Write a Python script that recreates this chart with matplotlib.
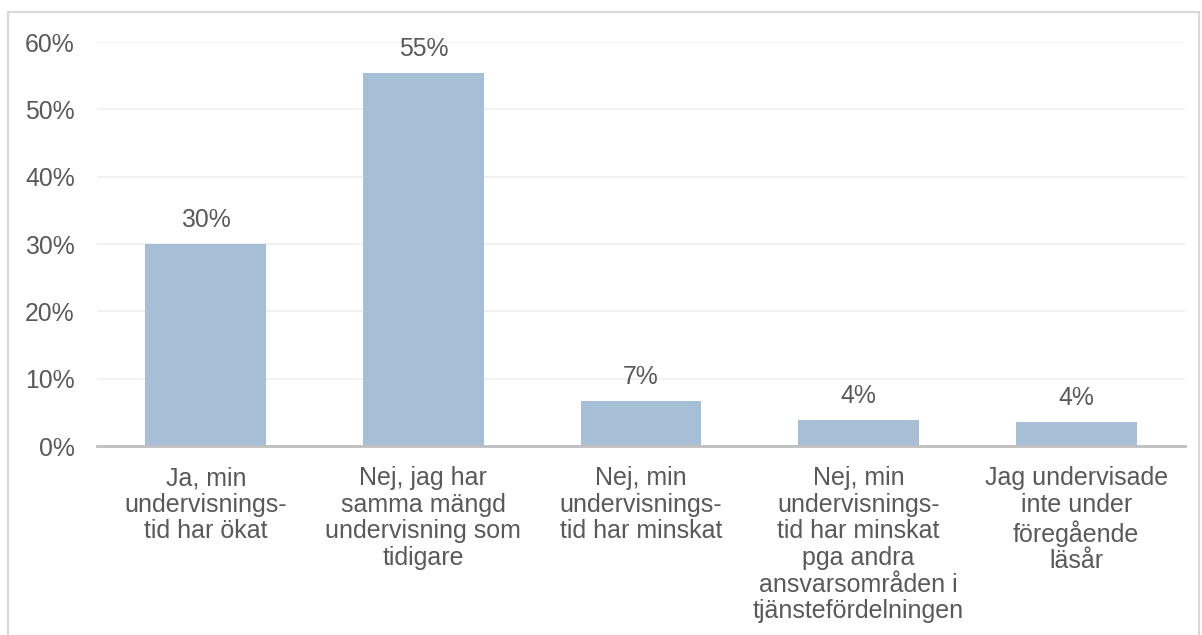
import matplotlib
matplotlib.use("Agg")
import matplotlib.pyplot as plt
from matplotlib.patches import Rectangle
from matplotlib.ticker import FuncFormatter

categories = [
    "Ja, min\nundervisnings-\ntid har ökat",
    "Nej, jag har\nsamma mängd\nundervisning som\ntidigare",
    "Nej, min\nundervisnings-\ntid har minskat",
    "Nej, min\nundervisnings-\ntid har minskat\npga andra\nansvarsområden i\ntjänstefördelningen",
    "Jag undervisade\ninte under\nföregående\nläsår",
]
values = [30.0, 55.4, 6.7, 3.9, 3.6]
value_labels = ["30%", "55%", "7%", "4%", "4%"]
yticks = [0, 10, 20, 30, 40, 50, 60]

plt.rcParams['font.family'] = ['Liberation Sans', 'DejaVu Sans']
TXT = '#595959'
FS = 18
FSN = 17.8

fig = plt.figure(figsize=(12.02, 6.35), dpi=100)
W, H = 1202, 635
ax = fig.add_axes([97 / W, 1 - 446 / H, (1185 - 97) / W, (446 - 42) / H])

x = list(range(len(categories)))
bars = ax.bar(x, values, width=0.556, color='#a7bed7', zorder=3)
for xi, v, lab in zip(x, values, value_labels):
    ax.annotate(lab, (xi, v), xytext=(0, 8.5), textcoords='offset points',
                ha='center', va='bottom', fontsize=FSN, color=TXT)

ax.set_xlim(-0.5, 4.5)
ax.set_ylim(0, 60)
ax.set_yticks(yticks)
ax.yaxis.set_major_formatter(FuncFormatter(lambda v, p: f"{int(v)}%"))
ax.set_xticks(x)
ax.set_xticklabels(categories, fontsize=FS, color=TXT, linespacing=1.14)
ax.tick_params(axis='y', labelsize=FSN, labelcolor=TXT, length=0, pad=16)
ax.tick_params(axis='x', length=0, pad=14.5)
ax.grid(axis='y', color='#efefef', linewidth=1.2, zorder=0)
for s in ['top', 'right', 'left']:
    ax.spines[s].set_visible(False)
ax.spines['bottom'].set_color('#bfbfbf')
ax.spines['bottom'].set_linewidth(2)
ax.spines['bottom'].set_zorder(4)

fig.patches.append(Rectangle((8 / W, -0.1), (1199 - 8) / W, 1.1 - 12 / H,
                             transform=fig.transFigure, fill=False,
                             edgecolor='#d9d9d9', linewidth=1.5, clip_on=False))

fig.savefig('out.png', dpi=100)
